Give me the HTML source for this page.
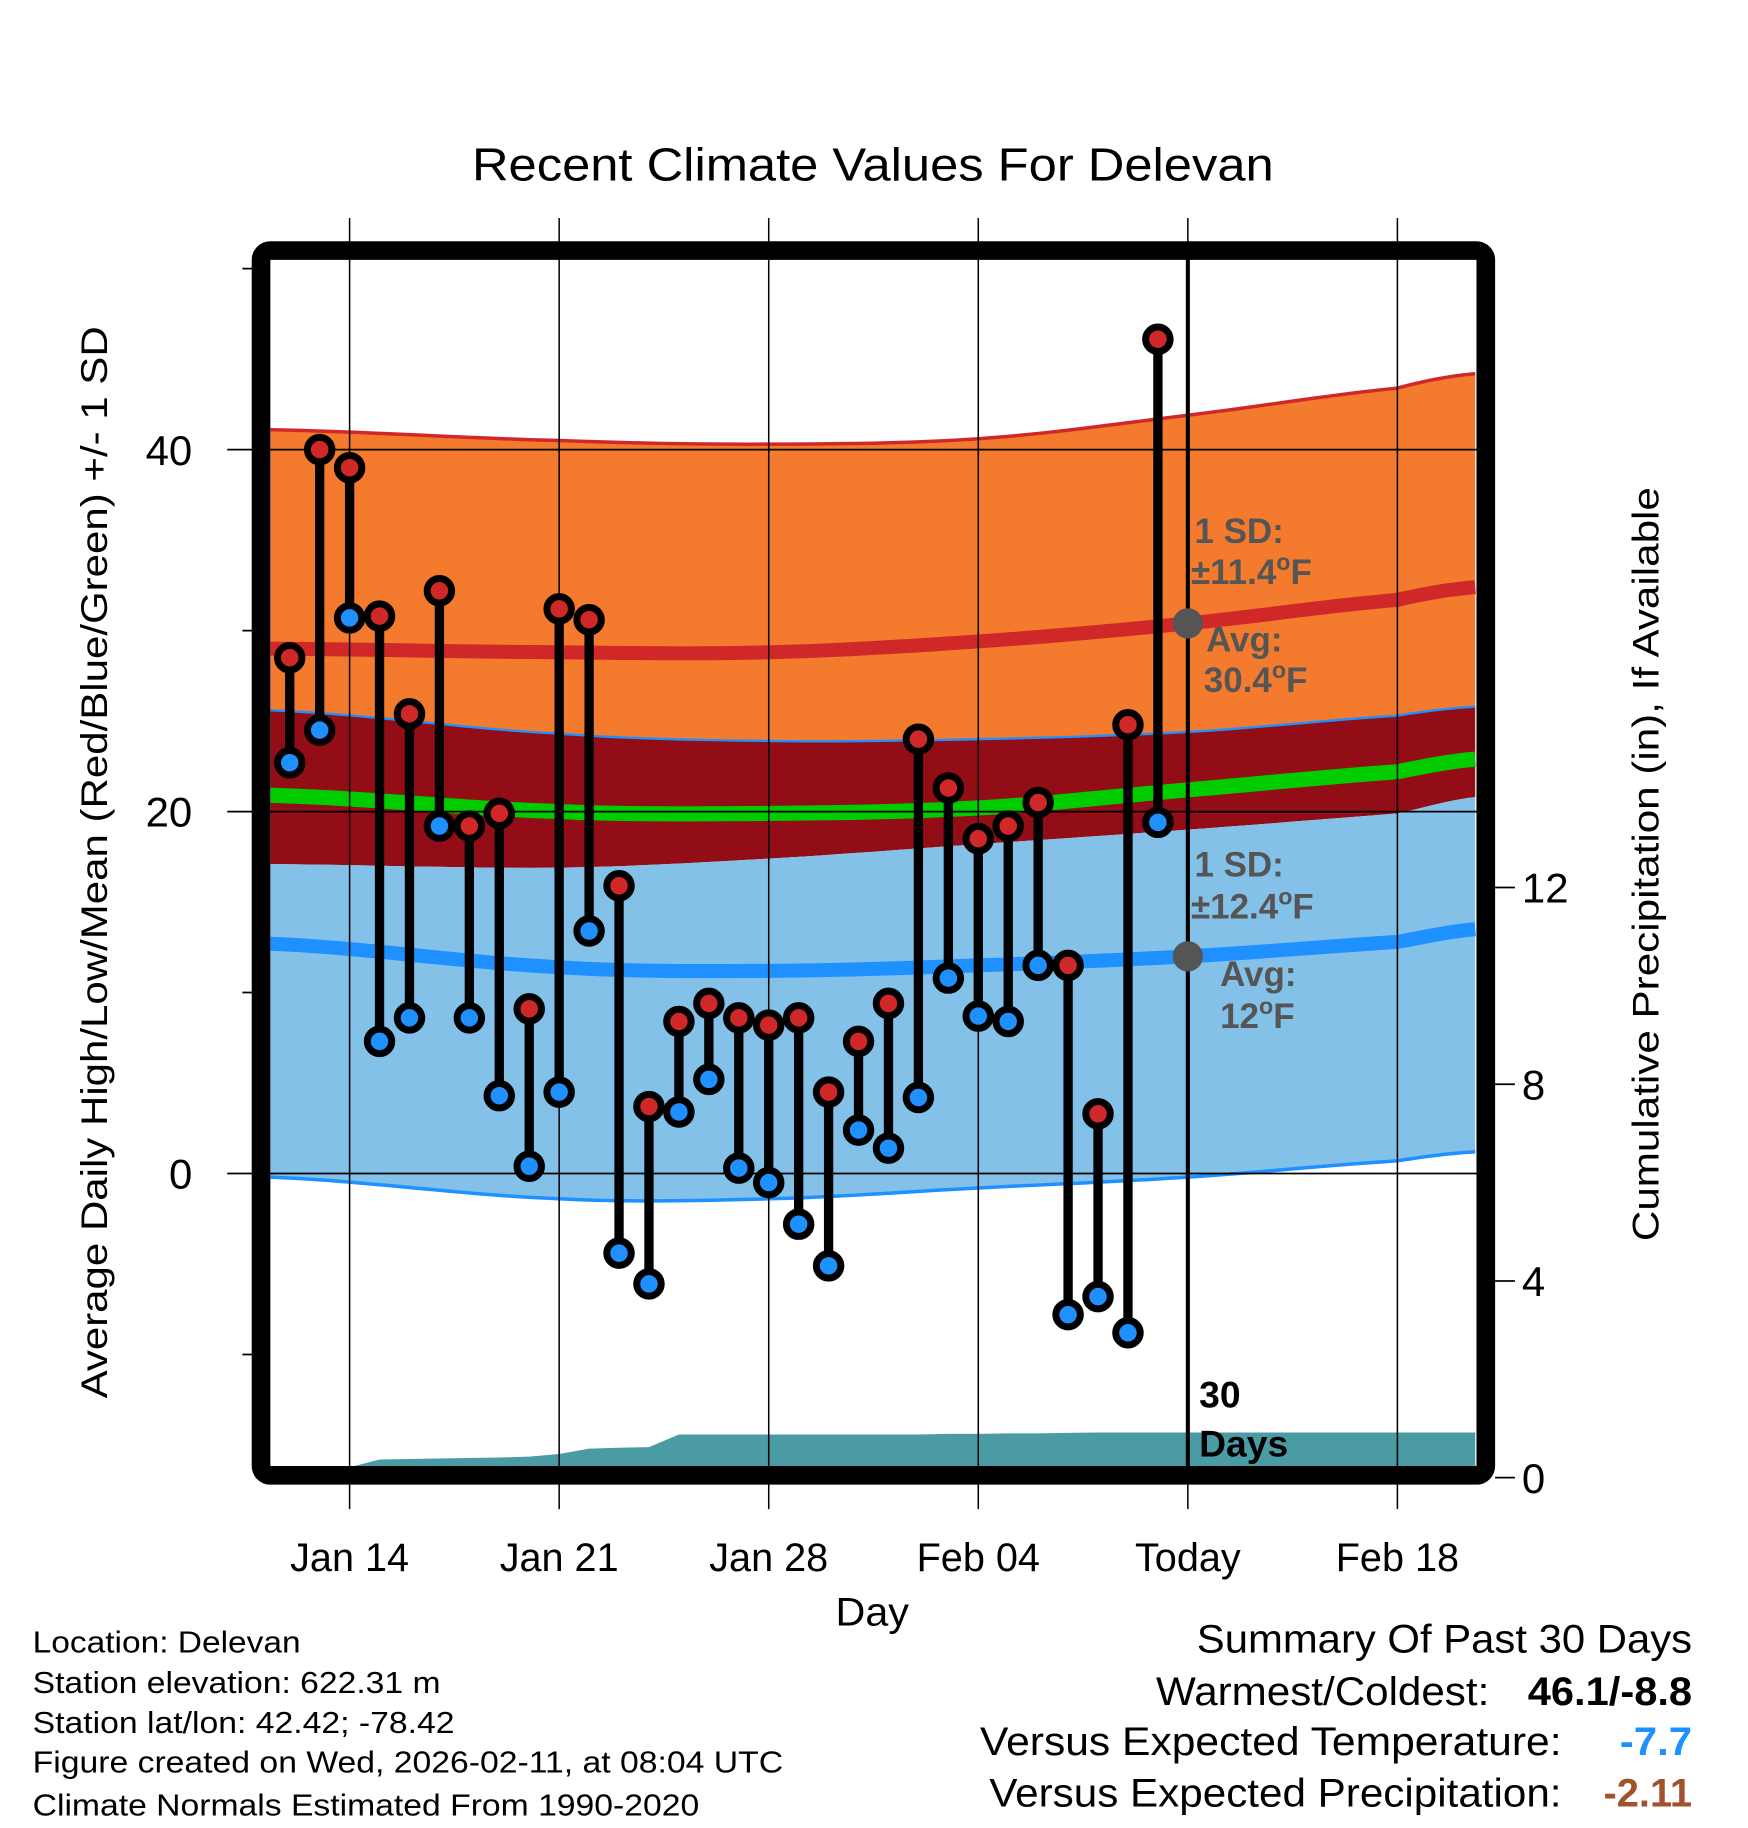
<!DOCTYPE html>
<html><head><meta charset="utf-8"><style>
html,body{margin:0;padding:0;background:#fff;}
svg{display:block;font-family:"Liberation Sans",Arial,sans-serif;}
</style></head><body>
<svg id="chart" width="1748" height="1828" viewBox="0 0 1500 1568.6" xmlns="http://www.w3.org/2000/svg">
<rect x="0" y="0" width="1500" height="1568.6" fill="#fff"/>
<text x="405" y="155" font-size="40" textLength="688" lengthAdjust="spacingAndGlyphs">Recent Climate Values For Delevan</text>
<g id="plot"></g>
<rect x="224" y="215" width="1051" height="1051" rx="8" fill="none" stroke="#000" stroke-width="16"/>
<g id="axes"></g>
<text x="717" y="1395" font-size="34" textLength="63" lengthAdjust="spacingAndGlyphs">Day</text>
<text transform="translate(92,1200) rotate(-90)" font-size="32" textLength="920" lengthAdjust="spacingAndGlyphs">Average Daily High/Low/Mean (Red/Blue/Green) +/- 1 SD</text>
<text transform="translate(1423,1065) rotate(-90)" font-size="32" textLength="647" lengthAdjust="spacingAndGlyphs">Cumulative Precipitation (in), If Available</text>
<g fill="#555" font-weight="bold" font-size="30">
<text x="1025" y="466">1 SD:</text>
<text x="1022" y="501">±11.4<tspan font-size="20" dy="-12">o</tspan><tspan dy="12">F</tspan></text>
<text x="1035" y="559">Avg:</text>
<text x="1033" y="594">30.4<tspan font-size="20" dy="-12">o</tspan><tspan dy="12">F</tspan></text>
<text x="1025" y="752">1 SD:</text>
<text x="1022" y="788">±12.4<tspan font-size="20" dy="-12">o</tspan><tspan dy="12">F</tspan></text>
<text x="1047" y="846">Avg:</text>
<text x="1047" y="882">12<tspan font-size="20" dy="-12">o</tspan><tspan dy="12">F</tspan></text>
</g>
<g font-weight="bold" font-size="32">
<text x="1029" y="1208">30</text><text x="1029" y="1250">Days</text>
</g>
<g font-size="26">
<text x="28" y="1418" textLength="230" lengthAdjust="spacingAndGlyphs">Location: Delevan</text>
<text x="28" y="1453" textLength="350" lengthAdjust="spacingAndGlyphs">Station elevation: 622.31 m</text>
<text x="28" y="1487" textLength="362" lengthAdjust="spacingAndGlyphs">Station lat/lon: 42.42; -78.42</text>
<text x="28" y="1521" textLength="644" lengthAdjust="spacingAndGlyphs">Figure created on Wed, 2026-02-11, at 08:04 UTC</text>
<text x="28" y="1558" textLength="572" lengthAdjust="spacingAndGlyphs">Climate Normals Estimated From 1990-2020</text>
</g>
<g font-size="34">
<text x="1027" y="1418" textLength="425" lengthAdjust="spacingAndGlyphs">Summary Of Past 30 Days</text>
<text x="992" y="1463" textLength="286" lengthAdjust="spacingAndGlyphs">Warmest/Coldest:</text>
<text x="1311" y="1463" font-weight="bold" textLength="141" lengthAdjust="spacingAndGlyphs">46.1/-8.8</text>
<text x="841" y="1506" textLength="499" lengthAdjust="spacingAndGlyphs">Versus Expected Temperature:</text>
<text x="1390" y="1506" font-weight="bold" fill="#1e90ff" textLength="62" lengthAdjust="spacingAndGlyphs">-7.7</text>
<text x="849" y="1550" textLength="491" lengthAdjust="spacingAndGlyphs">Versus Expected Precipitation:</text>
<text x="1376" y="1550" font-weight="bold" fill="#a0522d" textLength="76" lengthAdjust="spacingAndGlyphs">-2.11</text>
</g>
</svg>
<script>
// Daily observations, Jan 12 .. Feb 10 (day index relative to Jan 14)
const obsDays = [-2,-1,0,1,2,3,4,5,6,7,8,9,10,11,12,13,14,15,16,17,18,19,20,21,22,23,24,25,26,27];
const highs = [28.5,40.0,39.0,30.8,25.4,32.2,19.2,19.9,9.1,31.2,30.6,15.9,3.7,8.4,9.4,8.6,8.2,8.6,4.5,7.3,9.4,24.0,21.3,18.5,19.2,20.5,11.5,3.3,24.8,46.1];
const lows = [22.7,24.5,30.7,7.3,8.6,19.2,8.6,4.3,0.4,4.5,13.4,-4.4,-6.1,3.4,5.2,0.3,-0.5,-2.8,-5.1,2.4,1.4,4.2,10.8,8.7,8.4,11.5,-7.8,-6.8,-8.8,19.4];
const precip = [0,0,0.21,0.37,0.38,0.39,0.40,0.41,0.43,0.48,0.59,0.61,0.62,0.88,0.88,0.88,0.88,0.88,0.88,0.88,0.88,0.88,0.89,0.89,0.90,0.90,0.91,0.92,0.92,0.92];
// Climate normals sampled at these days
const normDays = [-2.65,7,14,21,28,35,37.6];
const normHighUpper = [41.1,40.5,40.3,40.6,41.9,43.4,44.2];
const normHighMean = [29.0,28.8,28.8,29.4,30.4,31.7,32.4];
const normHighLower = [25.6,24.3,23.9,24.0,24.4,25.3,25.8];
const normMean = [20.9,20.0,19.9,20.2,21.2,22.2,22.9];
const normLowUpper = [17.1,16.9,17.4,18.2,19.0,19.9,20.8];
const normLowMean = [12.7,11.4,11.2,11.5,12.0,12.8,13.5];
const normLowLower = [-0.2,-1.4,-1.4,-0.8,-0.2,0.7,1.2];
const xTickDays = [0,7,14,21,28,35];
const xTickLabels = ["Jan 14","Jan 21","Jan 28","Feb 04","Today","Feb 18"];
const yTicks = [40,20,0];
const yMinorTicks = [50,30,10,-10];
const y2Ticks = [0,4,8,12];
const todayDay = 28;
const todayHighAvg = 30.4, todayLowAvg = 12.0;

const NS="http://www.w3.org/2000/svg";
const X0=232, X1=1267, Y0=222, Y1=1259;
function xs(d){return 300+d*25.69;}
function ys(v){return 1007-v*15.53;}
function yp(v){return 1268-v*42.2;}
const plot=document.getElementById('plot'), axes=document.getElementById('axes');
function mk(tag,attrs,parent){const e=document.createElementNS(NS,tag);for(const k in attrs)e.setAttribute(k,attrs[k]);(parent||plot).appendChild(e);return e;}
// smooth sampling (Catmull-Rom) of a normal series
function smooth(vals){
  const out=[];
  for(let i=0;i<normDays.length-1;i++){
    const p0=vals[Math.max(i-1,0)],p1=vals[i],p2=vals[i+1],p3=vals[Math.min(i+2,vals.length-1)];
    const d1=normDays[i],d2=normDays[i+1];
    for(let s=0;s<10;s++){const t=s/10,t2=t*t,t3=t2*t;
      const v=0.5*((2*p1)+(-p0+p2)*t+(2*p0-5*p1+4*p2-p3)*t2+(-p0+3*p1-3*p2+p3)*t3);
      out.push([xs(d1+(d2-d1)*t),ys(v)]);}
  }
  out.push([xs(normDays[normDays.length-1]),ys(vals[vals.length-1])]);
  return out.map(p=>p[0].toFixed(1)+','+p[1].toFixed(1));
}
const clip=mk('clipPath',{id:'pc'});mk('rect',{x:X0,y:Y0,width:X1-X0,height:Y1-Y0},clip);
const g=mk('g',{'clip-path':'url(#pc)'});
function mk2(tag,attrs){return mk(tag,attrs,g);}
(function(){
  const P=(up,lo)=>smooth(up).concat(smooth(lo).reverse()).join(' ');
  let e;
  e=mk2('polygon',{points:P(normHighUpper,normHighLower),fill:'#f47a2e'});
  
  
  e=mk2('polygon',{points:P(normHighLower,normLowUpper),fill:'#920d15'});
  
  
  e=mk2('polygon',{points:P(normLowUpper,normLowLower),fill:'#83c1e8'});
  
  
  const L=(vals,stroke,w,name)=>{const l=mk2('polyline',{points:smooth(vals).join(' '),fill:'none',stroke:stroke,'stroke-width':w});
    
    };
  L(normHighUpper,'#d02828',3,'high-upper-line');
  L(normHighLower,'#1e90ff',2,'high-lower-line');
  L(normLowLower,'#1e90ff',3,'low-lower-line');
  L(normHighMean,'#d02828',12,'normal-high-line');
  L(normLowMean,'#1e90ff',12,'normal-low-line');
  L(normMean,'#00cc00',13,'normal-mean-line');
  // precip
  const pd=obsDays.concat([37.6]); const pv=precip.concat([precip[precip.length-1]]);
  const pp=pd.map((d,i)=>xs(d).toFixed(1)+','+yp(pv[i]).toFixed(1));
  pp.push(xs(37.6)+','+Y1,xs(-2)+','+Y1);
  e=mk2('polygon',{points:pp.join(' '),fill:'#4a9ba3'});
  
  
})();
// gridlines
yTicks.forEach(v=>{const e=mk('line',{x1:195,x2:1268,y1:ys(v),y2:ys(v),stroke:'#000','stroke-width':1.5});
  
  });
yMinorTicks.forEach(v=>{const e=mk('line',{x1:208,x2:224,y1:ys(v),y2:ys(v),stroke:'#000','stroke-width':1.5});
  
  });
xTickDays.forEach(d=>{const e=mk('line',{x1:xs(d),x2:xs(d),y1:187,y2:1295,stroke:'#000','stroke-width':1.3});
  
  });
// today line
(function(){const e=mk('line',{x1:xs(todayDay),x2:xs(todayDay),y1:Y0,y2:Y1,stroke:'#000','stroke-width':3.5});
  
  
  const a=mk('circle',{cx:xs(todayDay),cy:ys(todayHighAvg),r:13,fill:'#555'});
  
  
  const b=mk('circle',{cx:xs(todayDay),cy:ys(todayLowAvg),r:13,fill:'#555'});
  
  })();
// stems and dots
obsDays.forEach((d,i)=>{
  const s=mk('line',{x1:xs(d),x2:xs(d),y1:ys(highs[i]),y2:ys(lows[i]),stroke:'#000','stroke-width':8});
  
  
  const h=mk('circle',{cx:xs(d),cy:ys(highs[i]),r:10.5,fill:'#d02828',stroke:'#000','stroke-width':6});
  
  
  const l=mk('circle',{cx:xs(d),cy:ys(lows[i]),r:10.5,fill:'#1e90ff',stroke:'#000','stroke-width':6});
  
  
});
// axes labels
yTicks.forEach(v=>{const t=mk('text',{x:165,y:ys(v)+13,'font-size':36,'text-anchor':'end'},axes);t.textContent=v;
  
  });
y2Ticks.forEach(v=>{const tk=mk('line',{x1:1283,x2:1300,y1:yp(v),y2:yp(v),stroke:'#000','stroke-width':1.5},axes);
  
  
  const t=mk('text',{x:1306,y:yp(v)+13,'font-size':36},axes);t.textContent=v;
  
  });
xTickDays.forEach((d,i)=>{const t=mk('text',{x:xs(d),y:1348,'font-size':34,'text-anchor':'middle'},axes);t.textContent=xTickLabels[i];
  
  });
</script>
</body></html>
